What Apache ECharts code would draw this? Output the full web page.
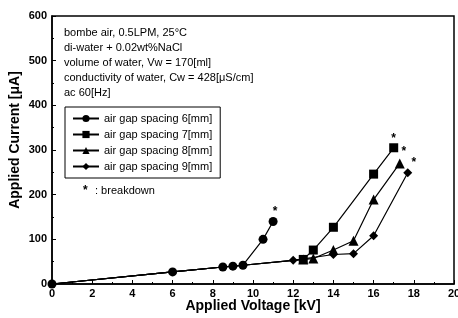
<!DOCTYPE html>
<html>
<head>
<meta charset="utf-8">
<script src="https://cdn.jsdelivr.net/npm/echarts@6/dist/echarts.min.js"></script>
<style>
html, body { margin: 0; padding: 0; background: #fff; }
#main { width: 458px; height: 318px; }
</style>
</head>
<body>
<div id="main"></div>
<script>
// 数据
var names = ['air gap spacing 6[mm]', 'air gap spacing 7[mm]', 'air gap spacing 8[mm]', 'air gap spacing 9[mm]'];
var symbols = ['circle', 'rect', 'triangle', 'diamond'];

var gap6 = [[0, 0], [6, 27], [8.5, 38], [9, 40], [9.5, 42], [10.5, 100], [11, 140]];
var gap7 = [[0, 0], [6, 27], [8.5, 38], [9, 40], [9.5, 42], [12.5, 55], [13, 76], [14, 127], [16, 246], [17, 305]];
var gap8 = [[0, 0], [6, 27], [8.5, 38], [9, 40], [9.5, 42], [12.5, 55], [13, 57], [14, 76], [15, 97], [16, 189], [17.3, 270]];
var gap9 = [[0, 0], [6, 27], [8.5, 38], [9, 40], [9.5, 42], [12, 53], [14, 66], [15, 68], [16, 108], [17.7, 249]];

var notes = [
    'bombe air, 0.5LPM, 25°C',
    'di-water + 0.02wt%NaCl',
    'volume of water, Vw = 170[ml]',
    'conductivity of water, Cw = 428[μS/cm]',
    'ac 60[Hz]'
];

var FONT = '"Liberation Sans", Arial, sans-serif';

// 最后一点标 * (击穿)
function buildData(arr, hideShared, starOffset) {
    return arr.map(function (p, i) {
        var item = { value: p };
        if (hideShared && p[0] <= 9.5) {
            item.symbolSize = 0;
        }
        if (i === arr.length - 1) {
            item.label = {
                show: true,
                formatter: '*',
                position: 'top',
                offset: starOffset,
                color: '#000',
                fontSize: 12,
                fontWeight: 'bold',
                fontFamily: FONT
            };
        }
        return item;
    });
}

var myChart = echarts.init(document.getElementById('main'));

var order = [1, 2, 3, 0];
var offsets = [[2, 6], [0, 6], [4, 4], [6, 5]];

var series = order.map(function (k) {
    var arr = [gap6, gap7, gap8, gap9][k];
    return {
        name: names[k],
        type: 'line',
        symbol: symbols[k],
        symbolSize: k === 2 ? 10 : 9,
        itemStyle: { color: '#000' },
        lineStyle: { color: '#000', width: 1.2 },
        z: k === 0 ? 5 : 3,
        data: buildData(arr, k !== 0, offsets[k])
    };
});

var graphics = notes.map(function (t, i) {
    return {
        type: 'text',
        left: 64,
        top: 27 + i * 15.2,
        style: { text: t, fill: '#000', font: '11px ' + FONT }
    };
});
graphics.push({
    type: 'text',
    left: 83,
    top: 185,
    style: { text: '*', fill: '#000', font: 'bold 12px ' + FONT }
});
graphics.push({
    type: 'text',
    left: 95,
    top: 185,
    style: { text: ': breakdown', fill: '#000', font: '11px ' + FONT }
});
graphics.push({
    type: 'text',
    x: 15,
    y: 140,
    rotation: Math.PI / 2,
    style: {
        text: 'Applied Current [μA]',
        fill: '#000',
        font: 'bold 14px ' + FONT,
        align: 'center',
        verticalAlign: 'middle'
    }
});

var option = {
    animation: false,
    grid: {
        left: 52,
        right: 4,
        top: 16,
        bottom: 34,
        outerBoundsMode: 'none',
        show: true,
        borderColor: '#000',
        borderWidth: 1.5
    },
    legend: {
        orient: 'vertical',
        left: 65,
        top: 107,
        data: [names[0], names[1], names[2], names[3]],
        itemWidth: 26,
        itemHeight: 9,
        itemGap: 5,
        padding: [6, 8, 6, 7],
        borderColor: '#000',
        borderWidth: 1,
        backgroundColor: '#fff',
        textStyle: { color: '#000', fontSize: 11, fontFamily: FONT }
    },
    xAxis: {
        type: 'value',
        min: 0,
        max: 20,
        interval: 2,
        name: 'Applied Voltage [kV]',
        nameLocation: 'middle',
        nameGap: 15,
        nameMoveOverlap: false,
        nameTextStyle: { color: '#000', fontSize: 14, fontWeight: 'bold', fontFamily: FONT },
        axisLine: { lineStyle: { color: '#000', width: 1.5 } },
        axisTick: { inside: true, length: 4, lineStyle: { color: '#000' } },
        minorTick: { show: true, splitNumber: 2, length: 2, lineStyle: { color: '#000' } },
        axisLabel: { color: '#000', fontSize: 11, fontWeight: 'bold', fontFamily: FONT, margin: 4 },
        splitLine: { show: false }
    },
    yAxis: {
        type: 'value',
        min: 0,
        max: 600,
        interval: 100,
        axisLine: { show: true, lineStyle: { color: '#000', width: 1.5 } },
        axisTick: { show: true, inside: true, length: 4, lineStyle: { color: '#000' } },
        minorTick: { show: true, splitNumber: 2, length: 2, lineStyle: { color: '#000' } },
        axisLabel: { color: '#000', fontSize: 11, fontWeight: 'bold', fontFamily: FONT, margin: 5 },
        splitLine: { show: false }
    },
    graphic: graphics,
    series: series
};

myChart.setOption(option);
</script>
</body>
</html>
